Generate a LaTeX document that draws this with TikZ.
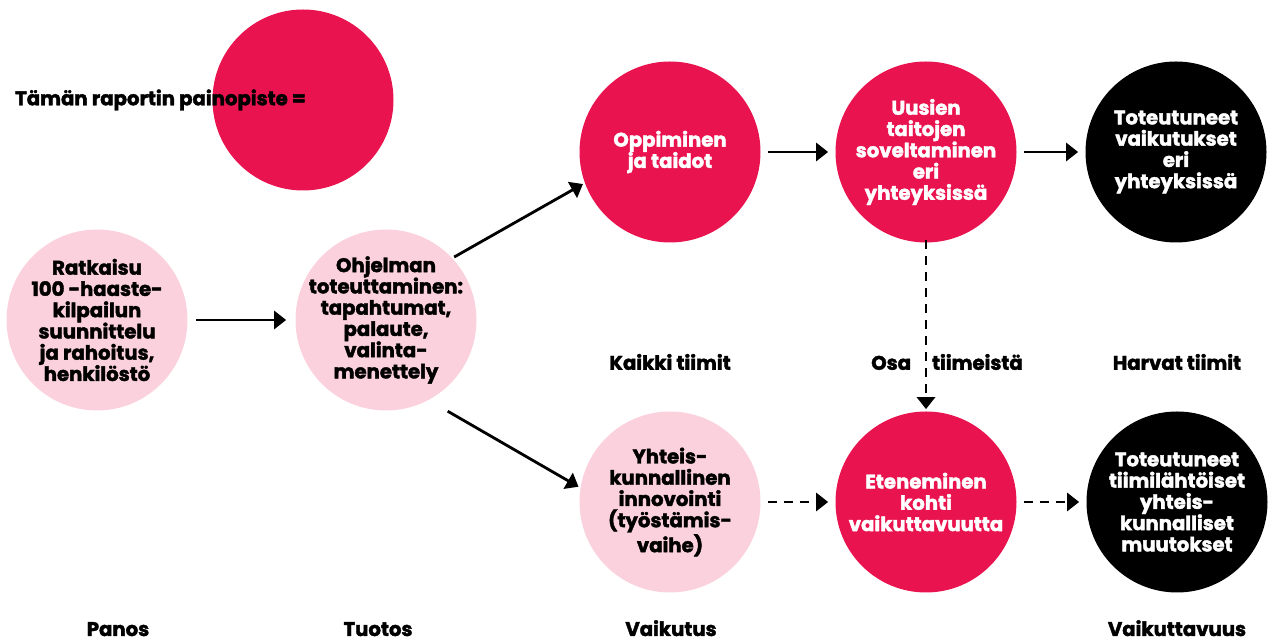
\documentclass[tikz,border=0pt]{standalone}
\usepackage{fontspec}
\setmainfont{Poppins}[BoldFeatures={FakeBold=2}]
\usepackage{tikz}
\usetikzlibrary{arrows.meta,positioning}
\usepackage{xcolor}
\definecolor{painopiste}{RGB}{233,20,79}
\definecolor{vaalea}{RGB}{250,209,220}

\begin{document}
\begin{tikzpicture}[
  pallo/.style={circle, minimum size=3.62cm, inner sep=-0.6cm, align=center,
      font=\bfseries\fontsize{11.2}{12.1}\selectfont},
  vaaleapallo/.style={pallo, fill=vaalea, text=black},
  punainenpallo/.style={pallo, fill=painopiste, text=white},
  mustapallo/.style={pallo, fill=black, text=white},
  otsikko/.style={font=\bfseries\fontsize{11.2}{12.1}\selectfont},
  nuoli/.style={-{Triangle[length=2.4mm,width=3.6mm]}, line width=1.6pt},
  katko/.style={nuoli, dash pattern=on 1.9mm off 1.3mm}]
\useasboundingbox (0,0) rectangle (25.36,12.82);
% painopiste
\node[punainenpallo] (merkki) at (6.06,10.82) {};
\node[otsikko, anchor=west] (selite) at (0.18,10.82) {Tämän raportin painopiste =};
% ylarivi ja alarivi
\node[vaaleapallo] (ratkaisu) at (1.94,6.42) {Ratkaisu\\100 -haaste-\\kilpailun\\suunnittelu\\ja rahoitus,\\henkilöstö};
\node[vaaleapallo] (ohjelma) at (7.72,6.42) {Ohjelman\\toteuttaminen:\\tapahtumat,\\palaute,\\valinta-\\menettely};
\node[punainenpallo] (oppiminen) at (13.4,9.78) {Oppiminen\\ja taidot};
\node[punainenpallo] (soveltaminen) at (18.52,9.78) {Uusien\\taitojen\\soveltaminen\\eri\\yhteyksissä};
\node[mustapallo] (vaikutukset) at (23.52,9.78) {Toteutuneet\\vaikutukset\\eri\\yhteyksissä};
\node[vaaleapallo] (innovointi) at (13.4,2.78) {Yhteis-\\kunnallinen\\innovointi\\(työstämis-\\vaihe)};
\node[punainenpallo] (eteneminen) at (18.52,2.78) {Eteneminen\\kohti\\vaikuttavuutta};
\node[mustapallo] (muutokset) at (23.54,2.78) {Toteutuneet\\tiimilähtöiset\\yhteis-\\kunnalliset\\muutokset};
% tiimit
\node[otsikko] (kaikki) at (13.4,5.58) {Kaikki tiimit};
\node[otsikko] (osa) at (18.94,5.58) {Osa\hspace{0.42cm}tiimeistä};
\node[otsikko] (harvat) at (23.54,5.58) {Harvat tiimit};
% vaiheet
\node[otsikko, anchor=base] (panos) at (2.36,0.1) {Panos};
\node[otsikko, anchor=base] (tuotos) at (7.56,0.1) {Tuotos};
\node[otsikko, anchor=base] (vaikutus) at (13.42,0.1) {Vaikutus};
\node[otsikko, anchor=base] (vaikuttavuus) at (23.54,0.1) {Vaikuttavuus};
% nuolet
\draw[nuoli, shorten <=0.16cm, shorten >=0.18cm] (ratkaisu) -- (ohjelma);
\draw[nuoli, shorten <=0.04cm, shorten >=0.04cm] (ohjelma.43) -- (oppiminen.200);
\draw[nuoli, shorten <=0.44cm, shorten >=0.04cm] (ohjelma.-62) -- (innovointi.171);
\draw[nuoli, shorten <=0.14cm, shorten >=0.14cm] (oppiminen) -- (soveltaminen);
\draw[nuoli, shorten <=0.14cm, shorten >=0.14cm] (soveltaminen) -- (vaikutukset);
\draw[katko, shorten <=0.14cm, shorten >=0.14cm] (innovointi) -- (eteneminen);
\draw[katko, shorten <=0.14cm, shorten >=0.14cm] (eteneminen) -- (muutokset);
\draw[katko, shorten <=-0.06cm, shorten >=0.04cm] (soveltaminen) -- (eteneminen);
\end{tikzpicture}
\end{document}
